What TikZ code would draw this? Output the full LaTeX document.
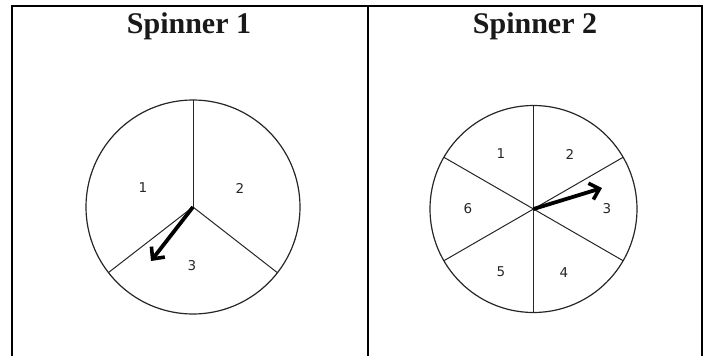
\documentclass[tikz,border=0pt]{standalone}
\usepackage{fontspec}
\setmainfont{Liberation Serif}
\newfontfamily\labfont{DejaVu Sans}
\usetikzlibrary{arrows.meta}
\begin{document}
\begin{tikzpicture}[x=1pt,y=-1pt,
  frame/.style={line width=2.2pt,line cap=rect},
  wheel/.style={line width=1.2pt,draw=black!85},
  spoke/.style={line width=1pt,draw=black!85},
  pointer/.style={line width=3.8pt,-{Straight Barb[length=9pt,width=17pt,line width=3.6pt]}},
  title/.style={font=\bfseries\fontsize{30}{34}\selectfont,text=black!90,anchor=base},
  lab/.style={font=\labfont\fontsize{13.5}{16}\selectfont,text=black!85}]
\useasboundingbox (0,0) rectangle (707,356);
% table frame
\draw[frame] (12,356) -- (12,6) -- (702,6) -- (702,356);
\draw[frame] (368,6) -- (368,356);
\node[title] (t1) at (189,34) {Spinner 1};
\node[title] (t2) at (535,34) {Spinner 2};
% spinner 1
\coordinate (c1) at (193,207);
\draw[wheel] (c1) circle[radius=107];
\draw[spoke] (c1) -- ++(-90:107);
\draw[spoke] (c1) -- ++(142.2:107);
\draw[spoke] (c1) -- ++(37.9:107);
\node[lab] (a1) at (143,188) {1};
\node[lab] (a2) at (240,188) {2};
\node[lab] (a3) at (192,266) {3};
\coordinate (p1) at (151,261);
\draw[pointer] (c1) -- (p1);
% spinner 2
\coordinate (c2) at (533.5,209);
\draw[wheel] (c2) circle[radius=103.5];
\foreach \ang in {-90,-30,30,90,150,210}
  \draw[spoke] (c2) -- ++(\ang:103.5);
\node[lab] (b1) at (501,154) {1};
\node[lab] (b2) at (570,154) {2};
\node[lab] (b3) at (607,209) {3};
\node[lab] (b4) at (564,273) {4};
\node[lab] (b5) at (501,272) {5};
\node[lab] (b6) at (468,209) {6};
\coordinate (p2) at (602,188);
\draw[pointer] (c2) -- (p2);
\end{tikzpicture}
\end{document}
